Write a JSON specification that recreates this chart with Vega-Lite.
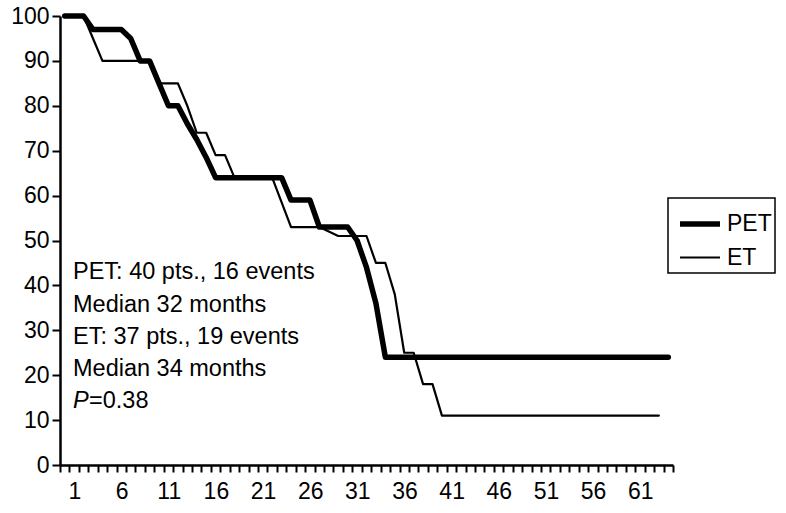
{
  "$schema": "https://vega.github.io/schema/vega-lite/v6.json",
  "autosize": "none",
  "width": 613,
  "height": 449,
  "padding": {"left": 60, "top": 16, "right": 113, "bottom": 48},
  "background": "white",
  "config": {
    "view": {"stroke": null},
    "font": "Liberation Sans",
    "axis": {
      "domainColor": "black", "domainWidth": 2.5, "tickColor": "black", "tickWidth": 2,
      "labelColor": "black", "labelFont": "Liberation Sans", "labelFontSize": 23,
      "grid": false, "title": null, "labelOverlap": false, "labelFlush": false, "labelBound": false
    },
    "legend": {"strokeColor": "black", "strokeWidth": 1.5}
  },
  "datasets": {
    "curves": [
      {"series": "PET", "month": 0, "value": 100}, {"series": "PET", "month": 1, "value": 100}, {"series": "PET", "month": 2, "value": 100},
      {"series": "PET", "month": 3, "value": 97}, {"series": "PET", "month": 4, "value": 97}, {"series": "PET", "month": 5, "value": 97},
      {"series": "PET", "month": 6, "value": 97}, {"series": "PET", "month": 7, "value": 95}, {"series": "PET", "month": 8, "value": 90},
      {"series": "PET", "month": 9, "value": 90}, {"series": "PET", "month": 10, "value": 85}, {"series": "PET", "month": 11, "value": 80},
      {"series": "PET", "month": 12, "value": 80}, {"series": "PET", "month": 13, "value": 76}, {"series": "PET", "month": 14, "value": 72.5},
      {"series": "PET", "month": 15, "value": 68.5}, {"series": "PET", "month": 16, "value": 64}, {"series": "PET", "month": 17, "value": 64},
      {"series": "PET", "month": 18, "value": 64}, {"series": "PET", "month": 19, "value": 64}, {"series": "PET", "month": 20, "value": 64},
      {"series": "PET", "month": 21, "value": 64}, {"series": "PET", "month": 22, "value": 64}, {"series": "PET", "month": 23, "value": 64},
      {"series": "PET", "month": 24, "value": 59}, {"series": "PET", "month": 25, "value": 59}, {"series": "PET", "month": 26, "value": 59},
      {"series": "PET", "month": 27, "value": 53}, {"series": "PET", "month": 28, "value": 53}, {"series": "PET", "month": 29, "value": 53},
      {"series": "PET", "month": 30, "value": 53}, {"series": "PET", "month": 31, "value": 50}, {"series": "PET", "month": 32, "value": 44},
      {"series": "PET", "month": 33, "value": 36}, {"series": "PET", "month": 34, "value": 24}, {"series": "PET", "month": 35, "value": 24},
      {"series": "PET", "month": 36, "value": 24}, {"series": "PET", "month": 37, "value": 24}, {"series": "PET", "month": 38, "value": 24},
      {"series": "PET", "month": 39, "value": 24}, {"series": "PET", "month": 40, "value": 24}, {"series": "PET", "month": 41, "value": 24},
      {"series": "PET", "month": 42, "value": 24}, {"series": "PET", "month": 43, "value": 24}, {"series": "PET", "month": 44, "value": 24},
      {"series": "PET", "month": 45, "value": 24}, {"series": "PET", "month": 46, "value": 24}, {"series": "PET", "month": 47, "value": 24},
      {"series": "PET", "month": 48, "value": 24}, {"series": "PET", "month": 49, "value": 24}, {"series": "PET", "month": 50, "value": 24},
      {"series": "PET", "month": 51, "value": 24}, {"series": "PET", "month": 52, "value": 24}, {"series": "PET", "month": 53, "value": 24},
      {"series": "PET", "month": 54, "value": 24}, {"series": "PET", "month": 55, "value": 24}, {"series": "PET", "month": 56, "value": 24},
      {"series": "PET", "month": 57, "value": 24}, {"series": "PET", "month": 58, "value": 24}, {"series": "PET", "month": 59, "value": 24},
      {"series": "PET", "month": 60, "value": 24}, {"series": "PET", "month": 61, "value": 24}, {"series": "PET", "month": 62, "value": 24},
      {"series": "PET", "month": 63, "value": 24}, {"series": "PET", "month": 64, "value": 24},
      {"series": "ET", "month": 0, "value": 100}, {"series": "ET", "month": 1, "value": 100}, {"series": "ET", "month": 2, "value": 100},
      {"series": "ET", "month": 3, "value": 95}, {"series": "ET", "month": 4, "value": 90}, {"series": "ET", "month": 5, "value": 90},
      {"series": "ET", "month": 6, "value": 90}, {"series": "ET", "month": 7, "value": 90}, {"series": "ET", "month": 8, "value": 90},
      {"series": "ET", "month": 9, "value": 90}, {"series": "ET", "month": 10, "value": 85}, {"series": "ET", "month": 11, "value": 85},
      {"series": "ET", "month": 12, "value": 85}, {"series": "ET", "month": 13, "value": 80}, {"series": "ET", "month": 14, "value": 74},
      {"series": "ET", "month": 15, "value": 74}, {"series": "ET", "month": 16, "value": 69}, {"series": "ET", "month": 17, "value": 69},
      {"series": "ET", "month": 18, "value": 64}, {"series": "ET", "month": 19, "value": 64}, {"series": "ET", "month": 20, "value": 64},
      {"series": "ET", "month": 21, "value": 64}, {"series": "ET", "month": 22, "value": 64}, {"series": "ET", "month": 23, "value": 58.5},
      {"series": "ET", "month": 24, "value": 53}, {"series": "ET", "month": 25, "value": 53}, {"series": "ET", "month": 26, "value": 53},
      {"series": "ET", "month": 27, "value": 53}, {"series": "ET", "month": 28, "value": 52}, {"series": "ET", "month": 29, "value": 51},
      {"series": "ET", "month": 30, "value": 51}, {"series": "ET", "month": 31, "value": 51}, {"series": "ET", "month": 32, "value": 51},
      {"series": "ET", "month": 33, "value": 45}, {"series": "ET", "month": 34, "value": 45}, {"series": "ET", "month": 35, "value": 38},
      {"series": "ET", "month": 36, "value": 25}, {"series": "ET", "month": 37, "value": 25}, {"series": "ET", "month": 38, "value": 18},
      {"series": "ET", "month": 39, "value": 18}, {"series": "ET", "month": 40, "value": 11}, {"series": "ET", "month": 41, "value": 11},
      {"series": "ET", "month": 42, "value": 11}, {"series": "ET", "month": 43, "value": 11}, {"series": "ET", "month": 44, "value": 11},
      {"series": "ET", "month": 45, "value": 11}, {"series": "ET", "month": 46, "value": 11}, {"series": "ET", "month": 47, "value": 11},
      {"series": "ET", "month": 48, "value": 11}, {"series": "ET", "month": 49, "value": 11}, {"series": "ET", "month": 50, "value": 11},
      {"series": "ET", "month": 51, "value": 11}, {"series": "ET", "month": 52, "value": 11}, {"series": "ET", "month": 53, "value": 11},
      {"series": "ET", "month": 54, "value": 11}, {"series": "ET", "month": 55, "value": 11}, {"series": "ET", "month": 56, "value": 11},
      {"series": "ET", "month": 57, "value": 11}, {"series": "ET", "month": 58, "value": 11}, {"series": "ET", "month": 59, "value": 11},
      {"series": "ET", "month": 60, "value": 11}, {"series": "ET", "month": 61, "value": 11}, {"series": "ET", "month": 62, "value": 11},
      {"series": "ET", "month": 63, "value": 11}
    ],
    "notes": [
      {"label": "PET: 40 pts., 16 events", "month": 0.88, "value": 43},
      {"label": "Median 32 months", "month": 0.88, "value": 35.6},
      {"label": "ET: 37 pts., 19 events", "month": 0.88, "value": 28.5},
      {"label": "Median 34 months", "month": 0.88, "value": 21.4}
    ],
    "pnote": [{"label": "P", "rest": "=0.38", "month": 0.88, "value": 14.2}]
  },
  "layer": [
    {
      "data": {"name": "curves"},
      "mark": {"type": "line", "color": "black", "strokeCap": "round", "strokeJoin": "round"},
      "encoding": {
        "x": {
          "field": "month", "type": "quantitative",
          "scale": {"domain": [-0.5, 64.5], "nice": false, "zero": false},
          "axis": {
            "values": [-0.5, 0.5, 1.5, 2.5, 3.5, 4.5, 5.5, 6.5, 7.5, 8.5, 9.5, 10.5, 11.5, 12.5, 13.5, 14.5, 15.5, 16.5, 17.5, 18.5, 19.5, 20.5, 21.5, 22.5, 23.5, 24.5, 25.5, 26.5, 27.5, 28.5, 29.5, 30.5, 31.5, 32.5, 33.5, 34.5, 35.5, 36.5, 37.5, 38.5, 39.5, 40.5, 41.5, 42.5, 43.5, 44.5, 45.5, 46.5, 47.5, 48.5, 49.5, 50.5, 51.5, 52.5, 53.5, 54.5, 55.5, 56.5, 57.5, 58.5, 59.5, 60.5, 61.5, 62.5, 63.5, 64.5],
            "tickCount": 100,
            "labelExpr": "((datum.value - 0.5) % 5 == 0 && datum.value > 0 && datum.value < 62) ? format(datum.value + 0.5, 'd') : ''",
            "labelOffset": 5, "tickSize": 7, "labelPadding": 8
          }
        },
        "y": {
          "field": "value", "type": "quantitative",
          "scale": {"domain": [0, 100], "nice": false},
          "axis": {"values": [0, 10, 20, 30, 40, 50, 60, 70, 80, 90, 100], "tickCount": 20, "tickSize": 8, "labelPadding": 3}
        },
        "detail": {"field": "series"},
        "strokeWidth": {
          "field": "series", "type": "nominal",
          "scale": {"domain": ["PET", "ET"], "range": [5.5, 2.2]},
          "legend": {
            "title": null, "orient": "none", "legendX": 608, "legendY": 182,
            "symbolType": "stroke", "symbolStrokeColor": "black", "symbolSize": 1600,
            "labelFontSize": 23, "labelColor": "black", "labelFont": "Liberation Sans",
            "labelOffset": 4, "padding": 3, "symbolOffset": 6, "rowPadding": -4
          }
        },
        "order": {"field": "month", "type": "quantitative"}
      }
    },
    {
      "data": {"name": "notes"},
      "mark": {"type": "text", "align": "left", "baseline": "middle", "fontSize": 23.5, "font": "Liberation Sans", "color": "black"},
      "encoding": {
        "x": {"field": "month", "type": "quantitative"},
        "y": {"field": "value", "type": "quantitative"},
        "text": {"field": "label"}
      }
    },
    {
      "data": {"name": "pnote"},
      "mark": {"type": "text", "align": "left", "baseline": "middle", "fontSize": 23.5, "font": "Liberation Sans", "fontStyle": "italic", "color": "black"},
      "encoding": {
        "x": {"field": "month", "type": "quantitative"},
        "y": {"field": "value", "type": "quantitative"},
        "text": {"field": "label"}
      }
    },
    {
      "data": {"name": "pnote"},
      "mark": {"type": "text", "align": "left", "baseline": "middle", "fontSize": 23.5, "font": "Liberation Sans", "color": "black", "dx": 16},
      "encoding": {
        "x": {"field": "month", "type": "quantitative"},
        "y": {"field": "value", "type": "quantitative"},
        "text": {"field": "rest"}
      }
    }
  ]
}
